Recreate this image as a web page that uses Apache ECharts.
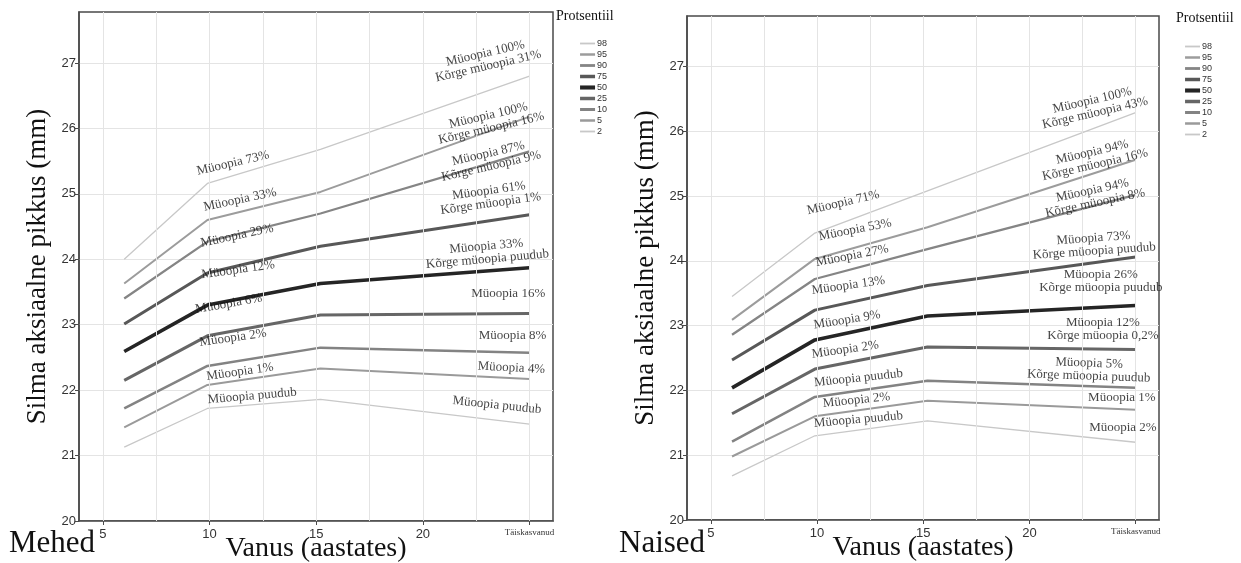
<!DOCTYPE html>
<html><head><meta charset="utf-8">
<script src="https://cdn.jsdelivr.net/npm/echarts@6/dist/echarts.min.js"></script>
<style>html,body{margin:0;padding:0;background:#fff}#c{width:1241px;height:563px}</style>
</head><body><div id="c"></div>
<script>
// ---------- data ----------
const ages = [6, 9.9, 15.2, 25];
const percentiles = ['98', '95', '90', '75', '50', '25', '10', '5', '2'];
const xTickValues = [5, 10, 15, 20, 25];
const yTickValues = [20, 21, 22, 23, 24, 25, 26, 27];
const xGridValues = [5, 7.5, 10, 12.5, 15, 17.5, 20, 22.5, 25];
const adultLabel = 'Täiskasvanud';

// Mehed (men)
const men98 = [24.00, 25.16, 25.68, 26.80];
const men95 = [23.63, 24.60, 25.03, 26.18];
const men90 = [23.40, 24.27, 24.70, 25.65];
const men75 = [23.01, 23.79, 24.20, 24.68];
const men50 = [22.59, 23.30, 23.63, 23.87];
const men25 = [22.15, 22.83, 23.15, 23.17];
const men10 = [21.72, 22.37, 22.65, 22.57];
const men5  = [21.43, 22.08, 22.33, 22.17];
const men2  = [21.13, 21.72, 21.86, 21.48];

// Naised (women)
const women98 = [23.45, 24.43, 25.08, 26.29];
const women95 = [23.09, 24.03, 24.52, 25.56];
const women90 = [22.86, 23.72, 24.18, 25.02];
const women75 = [22.47, 23.24, 23.62, 24.06];
const women50 = [22.04, 22.78, 23.15, 23.31];
const women25 = [21.64, 22.33, 22.67, 22.63];
const women10 = [21.21, 21.90, 22.15, 22.04];
const women5  = [20.98, 21.60, 21.84, 21.70];
const women2  = [20.68, 21.30, 21.53, 21.20];

// annotations: text, x (age), y (mm), rotation (deg)
const menNotes = ['Müoopia 73%', 'Müoopia 33%', 'Müoopia 29%', 'Müoopia 12%', 'Müoopia 6%', 'Müoopia 2%', 'Müoopia 1%', 'Müoopia puudub',
  'Müoopia 100%\nKõrge müoopia 31%', 'Müoopia 100%\nKõrge müoopia 16%', 'Müoopia 87%\nKõrge müoopia 9%', 'Müoopia 61%\nKõrge müoopia 1%',
  'Müoopia 33%\nKõrge müoopia puudub', 'Müoopia 16%', 'Müoopia 8%', 'Müoopia 4%', 'Müoopia puudub'];
const menNoteX = [11.1, 11.43, 11.29, 11.34, 10.9, 11.1, 11.43, 12.0, 23.0, 23.14, 23.14, 23.14, 23.0, 24.0, 24.2, 24.15, 23.47];
const menNoteY = [25.47, 24.91, 24.36, 23.84, 23.32, 22.8, 22.28, 21.91, 27.05, 26.1, 25.52, 24.95, 24.1, 23.47, 22.83, 22.34, 21.77];
const menNoteRot = [13, 12, 12, 8, 10, 8, 8, 5, 13, 13, 13, 8, 5, 0, 0, -3, -6];

const womenNotes = ['Müoopia 71%', 'Müoopia 53%', 'Müoopia 27%', 'Müoopia 13%', 'Müoopia 9%', 'Müoopia 2%', 'Müoopia puudub', 'Müoopia 2%', 'Müoopia puudub',
  'Müoopia 100%\nKõrge müoopia 43%', 'Müoopia 94%\nKõrge müoopia 16%', 'Müoopia 94%\nKõrge müoopia 8%', 'Müoopia 73%\nKõrge müoopia puudub',
  'Müoopia 26%\nKõrge müoopia puudub', 'Müoopia 12%\nKõrge müoopia 0,2%', 'Müoopia 5%\nKõrge müoopia puudub', 'Müoopia 1%', 'Müoopia 2%'];
const womenNoteX = [11.24, 11.8, 11.66, 11.48, 11.42, 11.33, 11.95, 11.86, 11.95, 23.03, 23.03, 23.03, 23.03, 23.36, 23.46, 22.8, 24.35, 24.4];
const womenNoteY = [24.9, 24.48, 24.08, 23.62, 23.09, 22.63, 22.19, 21.85, 21.55, 26.38, 25.58, 24.99, 24.25, 23.69, 22.94, 22.32, 21.89, 21.42];
const womenNoteRot = [13, 11, 11, 8, 9, 8, 6, 6, 5, 13, 13, 12, 4, 0, 0, -2, 0, 0];

// ---------- styles ----------
const lineColors = ['#c8c8c8', '#9c9c9c', '#858585', '#585858', '#252525', '#666666', '#838383', '#9a9a9a', '#c8c8c8'];
const lineWidths = [1.3, 2, 2.3, 3, 3.6, 3, 2.5, 2, 1.3];
const serif = '"Liberation Serif", "DejaVu Serif", serif';
const sans = '"Liberation Sans", Arial, sans-serif';
const gridColor = '#e4e4e4';
const frameColor = '#4a4a4a';

const menSets = [men98, men95, men90, men75, men50, men25, men10, men5, men2];
const womenSets = [women98, women95, women90, women75, women50, women25, women10, women5, women2];

function makeAxesX(idx) {
  return {
    type: 'value', gridIndex: idx, min: 3.88, max: 26.1,
    name: 'Vanus (aastates)', nameLocation: 'middle', nameGap: 14, nameMoveOverlap: false,
    nameTextStyle: { fontFamily: serif, fontSize: 28, color: '#111', verticalAlign: 'top' },
    axisLine: { show: true, onZero: false, lineStyle: { color: frameColor, width: 1.5 } },
    axisTick: { show: true, customValues: xTickValues, length: 4, lineStyle: { color: frameColor } },
    axisLabel: {
      customValues: xTickValues, margin: 7, fontFamily: sans, fontSize: 13, color: '#333',
      formatter: v => v === 25 ? '{a|' + adultLabel + '}' : String(v),
      rich: { a: { fontFamily: serif, fontSize: 9, color: '#333' } }
    },
    splitLine: { show: false }
  };
}
function makeAxesY(idx) {
  return {
    type: 'value', gridIndex: idx, min: 20, max: 27.78, interval: 0.5,
    name: 'Silma aksiaalne pikkus (mm)', nameLocation: 'middle', nameGap: 28, nameRotate: 90, nameMoveOverlap: false,
    nameTextStyle: { fontFamily: serif, fontSize: 27, color: '#111' },
    axisLine: { show: true, lineStyle: { color: frameColor, width: 1.5 } },
    axisTick: { show: true, customValues: yTickValues, length: 4, lineStyle: { color: frameColor } },
    axisLabel: { customValues: yTickValues, margin: 3, fontFamily: sans, fontSize: 13, color: '#333',
      formatter: v => Number.isInteger(v) ? String(v) : '' },
    splitLine: { show: true, lineStyle: { color: gridColor, width: 1 } }
  };
}

const series = [];
[menSets, womenSets].forEach((sets, p) => {
  series.push({
    type: 'line', name: 'grid' + p, xAxisIndex: p, yAxisIndex: p, data: [], z: 1, silent: true,
    markLine: { silent: true, symbol: 'none', animation: false, label: { show: false },
      lineStyle: { color: gridColor, width: 1, type: 'solid' },
      emphasis: { disabled: true },
      data: xGridValues.map(v => ({ xAxis: v })) }
  });
  sets.forEach((vals, i) => {
    series.push({
      type: 'line', name: percentiles[i], xAxisIndex: p, yAxisIndex: p,
      data: ages.map((a, j) => [a, vals[j]]),
      symbol: 'none', showSymbol: false, z: 3, silent: true,
      color: lineColors[i],
      lineStyle: { color: lineColors[i], width: lineWidths[i] },
      emphasis: { disabled: true }
    });
  });
});

function noteSeries(p, texts, xs, ys, rots) {
  return {
    type: 'scatter', name: 'notes' + p, xAxisIndex: p, yAxisIndex: p, z: 5, silent: true,
    symbol: 'circle', symbolSize: 1, itemStyle: { color: 'rgba(0,0,0,0)' },
    label: { show: true, position: 'inside', formatter: '{b}', fontFamily: serif, fontSize: 13,
      lineHeight: 13, color: '#111', align: 'center', verticalAlign: 'middle' },
    data: texts.map((t, i) => ({ name: t, value: [xs[i], ys[i]], label: { rotate: rots[i] } }))
  };
}
series.push(noteSeries(0, menNotes, menNoteX, menNoteY, menNoteRot));
series.push(noteSeries(1, womenNotes, womenNoteX, womenNoteY, womenNoteRot));

const legendBase = {
  orient: 'vertical',
  data: percentiles.map((n, i) => ({ name: n, lineStyle: { width: lineWidths[i] + 0.5 } })),
  itemWidth: 15, itemHeight: 8, itemGap: 2,
  itemStyle: { opacity: 0 },
  textStyle: { fontFamily: sans, fontSize: 9, lineHeight: 9, color: '#333', padding: [0, 0, 0, -3] },
  selectedMode: false, padding: 0
};

const option = {
  animation: false,
  backgroundColor: '#fff',
  grid: [
    { left: 79, top: 12, width: 474, height: 509, show: true, borderColor: frameColor, borderWidth: 1.5, containLabel: false, outerBoundsMode: 'none' },
    { left: 687, top: 16, width: 472, height: 504, show: true, borderColor: frameColor, borderWidth: 1.5, containLabel: false, outerBoundsMode: 'none' }
  ],
  xAxis: [makeAxesX(0), makeAxesX(1)],
  yAxis: [makeAxesY(0), makeAxesY(1)],
  legend: [
    Object.assign({ left: 578, top: 39 }, legendBase),
    Object.assign({ left: 1183, top: 42 }, legendBase)
  ],
  graphic: [
    { type: 'text', left: 556, top: 9, style: { text: 'Protsentiil', font: '14px ' + serif, fill: '#111' } },
    { type: 'text', left: 1176, top: 11, style: { text: 'Protsentiil', font: '14px ' + serif, fill: '#111' } },
    { type: 'text', left: 9, top: 528, style: { text: 'Mehed', font: '31px ' + serif, fill: '#111' } },
    { type: 'text', left: 619, top: 528, style: { text: 'Naised', font: '31px ' + serif, fill: '#111' } }
  ],
  series: series
};

const chart = echarts.init(document.getElementById('c'), null, { renderer: 'canvas' });
chart.setOption(option);
</script>
</body></html>
